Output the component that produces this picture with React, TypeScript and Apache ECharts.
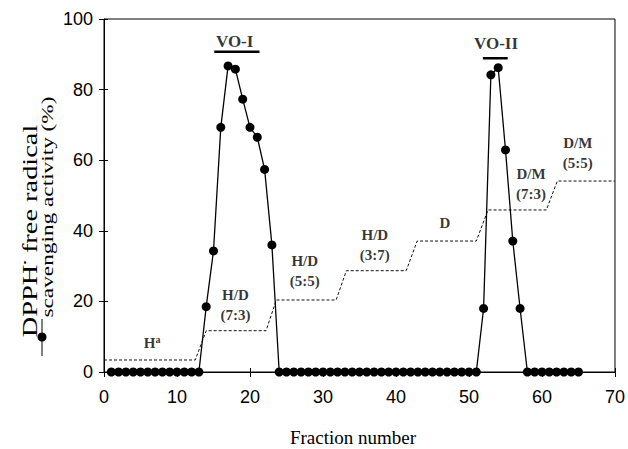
import React, { useEffect, useRef } from 'react';
import * as echarts from 'echarts';

// Fraction numbers and DPPH scavenging activity (%)
const fractions = [
  1, 2, 3, 4, 5, 6, 7, 8, 9, 10, 11, 12, 13, 14, 15, 16, 17, 18, 19, 20,
  21, 22, 23, 24, 25, 26, 27, 28, 29, 30, 31, 32, 33, 34, 35, 36, 37, 38, 39, 40,
  41, 42, 43, 44, 45, 46, 47, 48, 49, 50, 51, 52, 53, 54, 55, 56, 57, 58, 59, 60,
  61, 62, 63, 64, 65,
];
const activity = [
  0, 0, 0, 0, 0, 0, 0, 0, 0, 0, 0, 0, 0, 18.5, 34.3, 69.3, 86.7, 85.8, 77.3, 69.3,
  66.5, 57.4, 36, 0, 0, 0, 0, 0, 0, 0, 0, 0, 0, 0, 0, 0, 0, 0, 0, 0,
  0, 0, 0, 0, 0, 0, 0, 0, 0, 0, 0, 18, 84.2, 86.2, 62.9, 37.1, 18, 0, 0, 0,
  0, 0, 0, 0, 0,
];

// Step gradient of elution solvent (dotted line)
const gradientX = [0, 12.5, 14, 22.2, 23.6, 31.8, 33.2, 41.4, 42.9, 51, 52.6, 60.6, 62.1, 70];
const gradientY = [3.4, 3.4, 11.7, 11.7, 20.4, 20.4, 28.7, 28.7, 37.1, 37.1, 45.9, 45.9, 54.1, 54.1];

// Solvent labels (data coordinates)
const solventLabels = ['H{sup|a}', 'H/D\n(7:3)', 'H/D\n(5:5)', 'H/D\n(3:7)', 'D', 'D/M\n(7:3)', 'D/M\n(5:5)'];
const solventX = [6.6, 18.0, 27.5, 37.1, 46.7, 58.5, 64.9];
const solventY = [8.2, 19.0, 28.5, 36.0, 42.1, 53.3, 62.0];

// Active fraction pools
const poolLabels = ['VO-I', 'VO-II'];
const poolLabelX = [17.9, 53.7];
const poolLabelY = [93.6, 93.1];
const poolStart = [15.1, 51.9];
const poolEnd = [21.3, 55.3];
const poolBarY = [90.7, 88.9];

const xTicks = { min: 0, max: 70, interval: 10 };
const yTicks = { min: 0, max: 100, interval: 20 };

export default function App() {
  const ref = useRef<HTMLDivElement>(null);

  useEffect(() => {
    document.body.style.margin = '0';
    const chart = echarts.init(ref.current!, undefined, { renderer: 'svg' });

    const serif = 'Liberation Serif';
    const sans = 'Liberation Sans';

    const poolSeries = poolLabels.map((name, i) => ({
      type: 'line',
      name,
      data: [
        [poolStart[i], poolBarY[i]],
        [poolEnd[i], poolBarY[i]],
      ],
      symbol: 'none',
      lineStyle: { color: '#000', width: 2.5 },
      z: 4,
    }));

    const annotations = solventLabels.map((t, i) => ({ name: t, value: [solventX[i], solventY[i]] }));
    const poolAnnotations = poolLabels.map((t, i) => ({ name: t, value: [poolLabelX[i], poolLabelY[i]] }));

    const axisCommon = {
      type: 'value',
      splitLine: { show: false },
    };

    chart.setOption({
      animation: false,
      grid: {
        left: 104,
        right: 12,
        top: 19,
        bottom: 77,
        show: true,
        borderColor: '#000',
        borderWidth: 1,
        backgroundColor: 'transparent',
      },
      xAxis: [
        {
          ...axisCommon,
          ...xTicks,
          position: 'bottom',
          axisLine: { show: true, lineStyle: { color: '#000', width: 1 } },
          axisTick: { show: true, inside: false, length: 5, lineStyle: { color: '#000' } },
          axisLabel: { color: '#000', fontFamily: sans, fontSize: 18, margin: 16 },
        },
        {
          ...axisCommon,
          ...xTicks,
          position: 'bottom',
          offset: 0,
          axisLine: { show: false },
          axisTick: { show: true, inside: true, length: 4, lineStyle: { color: '#000' } },
          axisLabel: { show: false },
        },
      ],
      yAxis: [
        {
          ...axisCommon,
          ...yTicks,
          position: 'left',
          axisLine: { show: true, lineStyle: { color: '#000', width: 1 } },
          axisTick: { show: true, inside: false, length: 5, lineStyle: { color: '#000' } },
          axisLabel: { color: '#000', fontFamily: sans, fontSize: 18, margin: 11 },
        },
        {
          ...axisCommon,
          ...yTicks,
          position: 'left',
          offset: 0,
          axisLine: { show: false },
          axisTick: { show: true, inside: true, length: 4, lineStyle: { color: '#000' } },
          axisLabel: { show: false },
        },
      ],
      series: [
        {
          type: 'line',
          name: 'gradient',
          data: gradientX.map((x, i) => [x, gradientY[i]]),
          symbol: 'none',
          lineStyle: { color: '#111', width: 1, type: [3, 2] },
          z: 1,
        },
        {
          type: 'line',
          name: 'DPPH',
          data: fractions.map((f, i) => [f, activity[i]]),
          symbol: 'circle',
          symbolSize: 9,
          itemStyle: { color: '#000' },
          lineStyle: { color: '#000', width: 1.3 },
          z: 3,
        },
        ...poolSeries,
        {
          type: 'scatter',
          name: 'solvents',
          data: annotations,
          symbolSize: 0,
          silent: true,
          label: {
            show: true,
            position: 'inside',
            formatter: (p: any) => p.name,
            color: '#000',
            fontFamily: serif,
            fontSize: 15,
            fontWeight: 'bold',
            lineHeight: 20,
            align: 'center',
            verticalAlign: 'middle',
            rich: {
              sup: { fontFamily: serif, fontSize: 10, fontWeight: 'bold', color: '#000', padding: [0, 0, 7, 0] },
            },
          },
          z: 5,
        },
        {
          type: 'scatter',
          name: 'pools',
          data: poolAnnotations,
          symbolSize: 0,
          silent: true,
          label: {
            show: true,
            position: 'inside',
            formatter: (p: any) => p.name,
            color: '#000',
            fontFamily: serif,
            fontSize: 17,
            fontWeight: 'bold',
            align: 'center',
            verticalAlign: 'middle',
          },
          z: 5,
        },
      ],
      graphic: [
        {
          type: 'text',
          x: 353,
          y: 437,
          style: {
            text: 'Fraction number',
            fontFamily: serif,
            fontSize: 19,
            fill: '#000',
            align: 'center',
            verticalAlign: 'middle',
          },
        },
        {
          type: 'text',
          x: 30,
          y: 231,
          rotation: Math.PI / 2,
          scaleX: 1.42,
          style: {
            text: 'DPPH{sup|•} free radical',
            fontFamily: serif,
            fontSize: 20,
            fill: '#000',
            align: 'center',
            verticalAlign: 'middle',
            rich: {
              sup: { fontFamily: serif, fontSize: 9, fill: '#000', padding: [0, 0, 10, 0] },
            },
          },
        },
        {
          type: 'text',
          x: 47,
          y: 207,
          rotation: Math.PI / 2,
          scaleX: 1.37,
          style: {
            text: 'scavenging activity (%)',
            fontFamily: serif,
            fontSize: 17,
            fill: '#000',
            align: 'center',
            verticalAlign: 'middle',
          },
        },
        {
          type: 'line',
          shape: { x1: 42, y1: 319, x2: 42, y2: 356 },
          style: { stroke: '#000', lineWidth: 1 },
        },
        {
          type: 'circle',
          shape: { cx: 42, cy: 337, r: 4.5 },
          style: { fill: '#000' },
        },
      ],
    });

    return () => chart.dispose();
  }, []);

  return <div ref={ref} style={{ width: 628, height: 449 }} />;
}
